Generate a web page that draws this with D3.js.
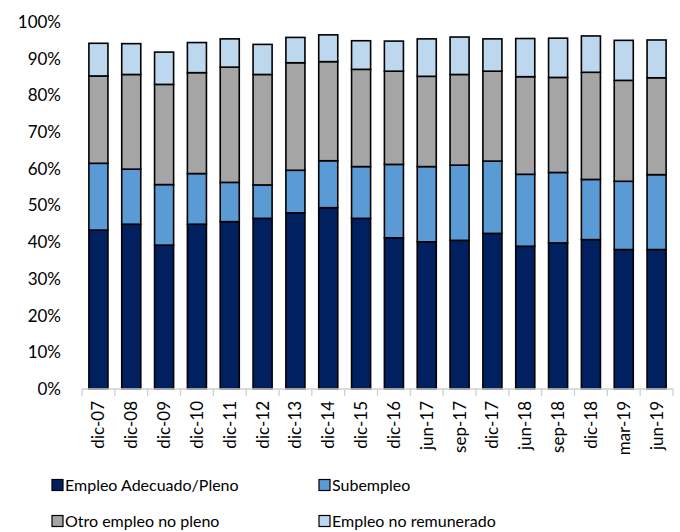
<!DOCTYPE html>
<html><head><meta charset="utf-8">
<script src="https://cdn.jsdelivr.net/npm/d3@7"></script>
<style>body{margin:0;background:#fff}svg{display:block}text{font-family:Lato,"Open Sans",sans-serif;fill:#000}</style>
</head><body>
<svg id="c" width="680" height="532"></svg>
<script>
const categories = ["dic-07","dic-08","dic-09","dic-10","dic-11","dic-12","dic-13","dic-14","dic-15","dic-16","jun-17","sep-17","dic-17","jun-18","sep-18","dic-18","mar-19","jun-19"];
const adecuado = [43.3,44.9,39.2,44.9,45.6,46.5,48.0,49.4,46.5,41.2,40.1,40.5,42.4,38.9,39.8,40.7,38.0,38.0];
const subempleo = [18.2,15.0,16.5,13.8,10.7,9.1,11.6,12.8,14.1,20.0,20.5,20.5,19.7,19.6,19.2,16.4,18.6,20.4];
const otro = [23.8,25.8,27.3,27.5,31.4,30.1,29.3,27.0,26.5,25.4,24.6,24.7,24.5,26.6,25.9,29.2,27.5,26.4];
const noRemunerado = [8.9,8.4,8.8,8.2,7.7,8.2,6.9,7.3,7.8,8.2,10.2,10.2,8.8,10.4,10.7,9.9,10.9,10.3];
const seriesNames = ["Empleo Adecuado/Pleno","Subempleo","Otro empleo no pleno","Empleo no remunerado"];
const yTicks = [0,10,20,30,40,50,60,70,80,90,100];
const colors = ["#002060","#5B9BD5","#A5A5A5","#BDD7EE"];

const svg = d3.select("#c");
const x = d3.scaleBand().domain(categories).range([82,673]).paddingInner(0.42).paddingOuter(0.21);
const y = d3.scaleLinear().domain([0,100]).range([389,22]);

const rows = categories.map((c,i)=>({cat:c, a:adecuado[i], s:subempleo[i], o:otro[i], n:noRemunerado[i]}));
const stack = d3.stack().keys(["a","s","o","n"])(rows);

// y axis labels
const yAxis = d3.axisLeft(y).tickValues(yTicks).tickFormat(d=>d+"%").tickSize(0).tickPadding(0);
const gy = svg.append("g").attr("transform","translate(61,0)").call(yAxis);
gy.select(".domain").remove();
gy.selectAll("text").style("font-size","17px").style("font-family","Lato,'Open Sans',sans-serif").attr("fill","#000");

// bars
svg.append("g").selectAll("g").data(stack).join("g")
  .attr("fill",(d,i)=>colors[i])
  .selectAll("rect").data(d=>d).join("rect")
  .attr("x",d=>x(d.data.cat))
  .attr("width",x.bandwidth())
  .attr("y",d=>y(d[1]))
  .attr("height",d=>y(d[0])-y(d[1]))
  .attr("stroke","#000").attr("stroke-width",1.6);

// x axis
const gx = svg.append("g").attr("transform","translate(0,389)");
gx.append("line").attr("x1",82).attr("x2",673).attr("stroke","#D0D0D0").attr("stroke-width",1.3);
const step = x.step();
const bounds = d3.range(categories.length+1).map(i=>82+i*step);
gx.selectAll("line.t").data(bounds).join("line").attr("class","t")
  .attr("x1",d=>d).attr("x2",d=>d).attr("y1",0).attr("y2",7).attr("stroke","#D0D0D0").attr("stroke-width",1.3);
gx.selectAll("text").data(categories).join("text")
  .attr("transform",d=>`translate(${x(d)+x.bandwidth()/2},12) rotate(-90)`)
  .attr("text-anchor","end").attr("dy","0.35em")
  .style("font-size","17px").text(d=>d);

// legend
const legendPos = [[52,485],[319,485],[52,521],[319,521]];
const lg = svg.append("g");
seriesNames.forEach((n,i)=>{
  const [lx,ly] = legendPos[i];
  lg.append("rect").attr("x",lx).attr("y",ly-5.5).attr("width",11).attr("height",11)
    .attr("fill",colors[i]).attr("stroke","#000").attr("stroke-width",1.2);
  lg.append("text").attr("x",lx+13).attr("y",ly).attr("dy","0.35em").style("font-size","16px").text(n);
});
</script>
</body></html>
